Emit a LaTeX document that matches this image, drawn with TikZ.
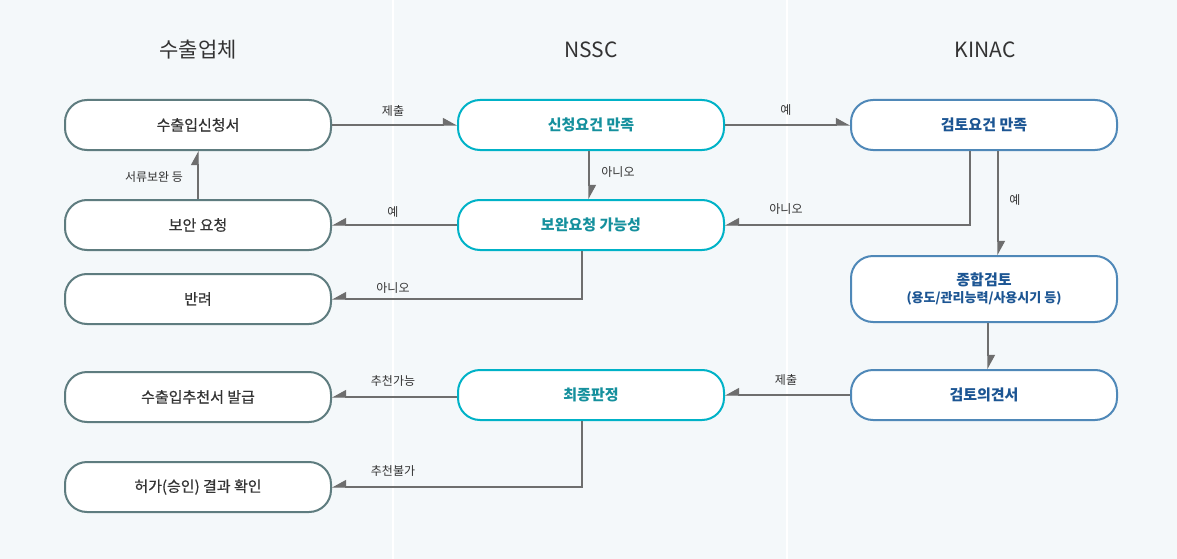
\documentclass[tikz,border=0pt]{standalone}
\usepackage{fontspec}
\setmainfont{Noto Sans CJK KR}
\newfontfamily\krmed{Noto Sans CJK KR}[FakeBold=0.6]
\usetikzlibrary{arrows.meta}
\definecolor{bgc}{HTML}{F4F8FA}
\definecolor{lcol}{HTML}{5E7C7F}
\definecolor{mcol}{HTML}{00B2C7}
\definecolor{rcol}{HTML}{4F88B8}
\definecolor{mtxt}{HTML}{15909D}
\definecolor{rtxt}{HTML}{1C5593}
\definecolor{ltxt}{HTML}{333333}
\definecolor{conn}{HTML}{6E6E6E}
\tikzset{
  pill/.style={draw, line width=2pt, fill=white, rounded corners=22pt,
    minimum width=266pt, minimum height=50pt, align=center, inner sep=0pt, font=\fontsize{15}{18}\selectfont},
  lbox/.style={pill, draw=lcol, text=ltxt, font=\fontsize{15}{18}\selectfont\krmed},
  mbox/.style={pill, draw=mcol, text=mtxt, font=\fontsize{15}{18}\selectfont\bfseries},
  rbox/.style={pill, draw=rcol, text=rtxt, font=\fontsize{15}{18}\selectfont\bfseries},
  head/.style={font=\fontsize{21}{25}\selectfont, text=ltxt},
  lab/.style={font=\fontsize{12}{14}\selectfont, text=ltxt, inner sep=0pt},
  conn/.style={draw=conn, line width=1.1pt, -{Triangle[harpoon, length=13pt, width=14pt]}},
  connsw/.style={draw=conn, line width=1.1pt, -{Triangle[harpoon, swap, length=13pt, width=14pt]}},
}
\begin{document}
\begin{tikzpicture}[x=1pt, y=-1pt]
\useasboundingbox (0,0) rectangle (1177,559);
\fill[bgc] (0,0) rectangle (1177,559);
\draw[white, line width=2pt] (393,0) -- (393,559);
\draw[white, line width=2pt] (787,0) -- (787,559);

\node[head] (h1) at (198,50) {수출업체};
\node[head] (h2) at (591,50) {NSSC};
\node[head] (h3) at (985,50) {KINAC};

% left column
\node[lbox] (a1) at (198,125) {수출입신청서};
\node[lbox] (a2) at (198,225) {보안 요청};
\node[lbox] (a3) at (198,299) {반려};
\node[lbox] (a4) at (198,397) {수출입추천서 발급};
\node[lbox] (a5) at (198,487) {허가(승인) 결과 확인};
% middle column
\node[mbox] (b1) at (591,125) {신청요건 만족};
\node[mbox] (b2) at (591,225) {보완요청 가능성};
\node[mbox] (b4) at (591,395) {최종판정};
% right column
\node[rbox] (c1) at (984,125) {검토요건 만족};
\node[rbox, minimum height=66pt] (c2) at (984,289) {종합검토\\[-1pt]\fontsize{13}{15}\selectfont (용도/관리능력/사용시기 등)};
\node[rbox] (c4) at (984,395) {검토의견서};

% connectors
\draw[conn] (a1.east) -- (b1.west);
\node[lab] (l1) at (393,111) {제출};
\draw[conn] (b1.east) -- (c1.west);
\node[lab] (l2) at (786,110) {예};
\draw[conn] (b1.south -| 589,0) -- (b2.north -| 589,0);
\node[lab] (l3) at (618,172) {아니오};
\draw[connsw] (b2.west) -- (a2.east);
\node[lab] (l4) at (393,212) {예};
\draw[conn] (a2.north) -- (a1.south);
\node[lab] (l5) at (154,177) {서류보완 등};
\draw[connsw] (b2.south -| 582,0) |- (a3.east);
\node[lab] (l6) at (393,288) {아니오};
\draw[connsw] (c1.south -| 970,0) |- (b2.east);
\node[lab] (l7) at (786,209) {아니오};
\draw[conn] (c1.south -| 998,0) -- (c2.north -| 998,0);
\node[lab] (l8) at (1015,200) {예};
\draw[conn] (c2.south -| 988,0) -- (c4.north -| 988,0);
\draw[connsw] (c4.west) -- (b4.east);
\node[lab] (l9) at (786,380) {제출};
\draw[connsw] (b4.west |- a4.east) -- (a4.east);
\node[lab] (l10) at (393,381) {추천가능};
\draw[connsw] (b4.south -| 582,0) |- (a5.east);
\node[lab] (l11) at (393,471) {추천불가};
\end{tikzpicture}
\end{document}
